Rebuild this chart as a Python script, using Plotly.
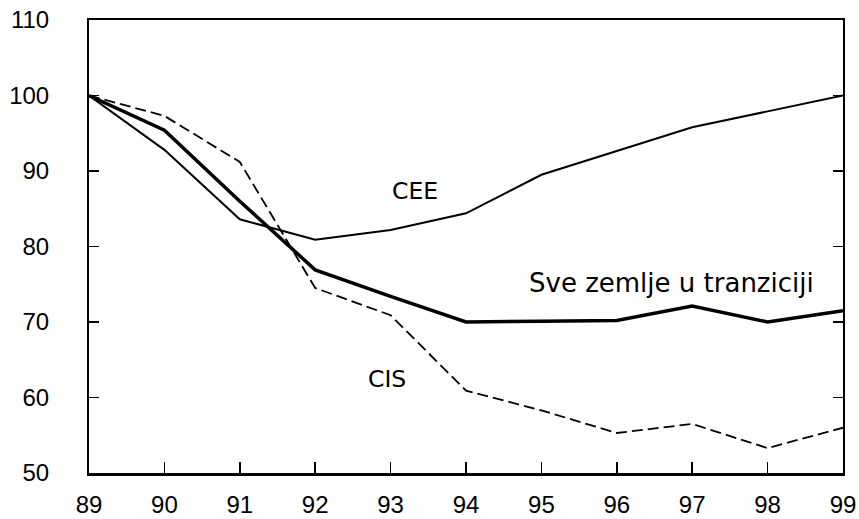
import plotly.graph_objects as go

years = [89, 90, 91, 92, 93, 94, 95, 96, 97, 98, 99]
x_tick_labels = ["89", "90", "91", "92", "93", "94", "95", "96", "97", "98", "99"]
cee = [100, 92.8, 83.6, 80.9, 82.2, 84.4, 89.5, 92.6, 95.8, 97.9, 100.0]
sve = [100, 95.4, 86.0, 76.9, 73.4, 70.0, 70.1, 70.2, 72.1, 70.0, 71.5]
cis = [100, 97.3, 91.2, 74.5, 70.9, 60.9, 58.3, 55.3, 56.5, 53.3, 56.0]
y_ticks = [50, 60, 70, 80, 90, 100, 110]

fig = go.Figure()
fig.add_trace(go.Scatter(x=years, y=cis, mode="lines",
                         line=dict(color="black", width=1.8, dash="11px,5px")))
fig.add_trace(go.Scatter(x=years, y=cee, mode="lines",
                         line=dict(color="black", width=2)))
fig.add_trace(go.Scatter(x=years, y=sve, mode="lines",
                         line=dict(color="black", width=3.5)))

tick_font = dict(family="Liberation Sans, Arial, sans-serif", size=24, color="black")
ann_font = dict(family="DejaVu Sans, sans-serif", size=23.5, color="black")
ann_font_long = dict(family="DejaVu Sans, sans-serif", size=26, color="black")

fig.add_annotation(x=93.32, y=87.3, text="CEE", showarrow=False, font=ann_font)
fig.add_annotation(x=96.73, y=75.2, text="Sve zemlje u tranziciji", showarrow=False, font=ann_font_long)
fig.add_annotation(x=92.95, y=62.45, text="CIS", showarrow=False, font=ann_font)

fig.update_layout(
    width=859, height=519,
    margin=dict(l=89, r=16, t=20, b=46),
    paper_bgcolor="white", plot_bgcolor="white",
    showlegend=False,
    font=tick_font,
)
fig.update_xaxes(range=[89, 99], tickvals=years, ticktext=x_tick_labels,
                 ticks="inside", ticklen=11, tickwidth=1.5, tickcolor="black",
                 showline=True, linewidth=2.5, linecolor="black", mirror=True,
                 showgrid=False, zeroline=False, ticklabelstandoff=9,
                 ticklabeloverflow="allow",
                 tickfont=tick_font, automargin=False)
fig.update_yaxes(range=[50, 110], tickvals=y_ticks,
                 ticks="inside", ticklen=10, tickwidth=1.5, tickcolor="black",
                 showline=True, linewidth=2, linecolor="black", mirror="ticks",
                 showgrid=False, zeroline=False, ticklabelstandoff=33,
                 ticklabeloverflow="allow",
                 tickfont=tick_font, automargin=False)

# remove the browser's default 8px body margin so the figure fills the window exactly
fig.write_html("out.html",
               config={"displayModeBar": False, "staticPlot": True},
               post_script="document.body.style.margin='0';document.body.style.overflow='hidden';")
